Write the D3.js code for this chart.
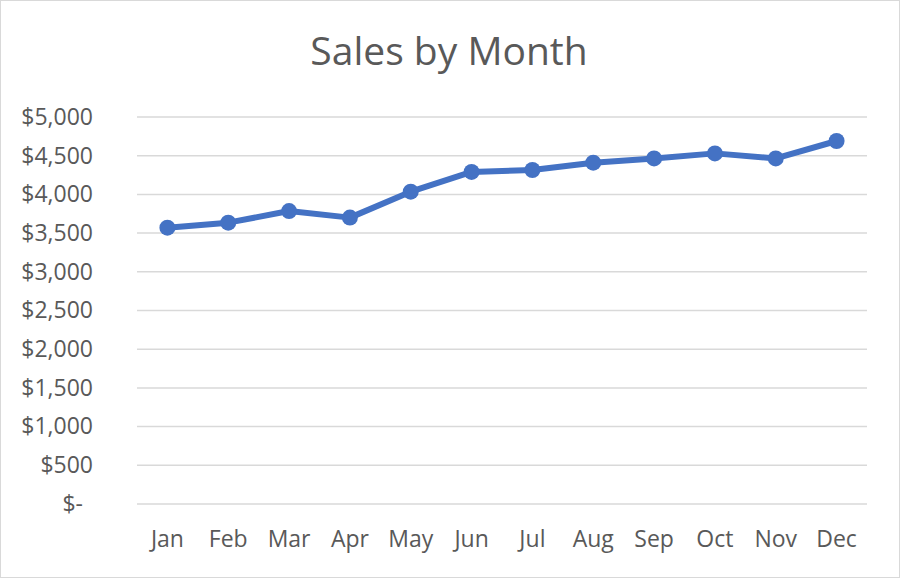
<!DOCTYPE html>
<html>
  <head>
    <meta charset="utf-8">
    <title>Sales by Month</title>
    <script src="https://d3js.org/d3.v7.min.js"></script>
    <style>
      body { margin: 0; background: #fff; }
      svg { display: block; font-family: "Open Sans", sans-serif; }
      .grid line { stroke: #d9d9d9; stroke-width: 1.5; }
      .axis text { fill: #595959; font-size: 23px; font-family: "Open Sans", sans-serif; }
    </style>
  </head>
  <body>
    <svg id="svg" width="900" height="578"></svg>
    <script>
      // data
      var months = ["Jan", "Feb", "Mar", "Apr", "May", "Jun", "Jul", "Aug", "Sep", "Oct", "Nov", "Dec"];
      var sales = [3570, 3635, 3785, 3700, 4035, 4290, 4315, 4410, 4465, 4530, 4465, 4690];
      var yTicks = [0, 500, 1000, 1500, 2000, 2500, 3000, 3500, 4000, 4500, 5000];

      var width = 900, height = 578;
      var margin = {top: 117, right: 33, bottom: 74, left: 137};
      var svg = d3.select("#svg");

      // chart frame
      svg.append("rect")
        .attr("x", 0.5).attr("y", 0.5)
        .attr("width", width - 1).attr("height", height - 1)
        .attr("fill", "none").attr("stroke", "#d9d9d9");

      svg.append("text")
        .attr("x", 449).attr("y", 65)
        .attr("text-anchor", "middle")
        .attr("fill", "#595959")
        .style("font-size", "39px")
        .text("Sales by Month");

      var x = d3.scaleBand()
        .domain(months)
        .range([margin.left, width - margin.right]);
      var y = d3.scaleLinear()
        .domain([0, 5000])
        .range([height - margin.bottom, margin.top]);

      // gridlines
      svg.append("g").attr("class", "grid")
        .selectAll("line")
          .data(yTicks)
        .enter().append("line")
          .attr("x1", margin.left).attr("x2", width - margin.right)
          .attr("y1", function(d) { return y(d); })
          .attr("y2", function(d) { return y(d); });

      // y axis labels
      var fmt = d3.format("$,");
      var yAxis = d3.axisLeft(y)
        .tickValues(yTicks)
        .tickSize(0)
        .tickPadding(44)
        .tickFormat(function(d) { return d === 0 ? "$-" : fmt(d); });
      var yg = svg.append("g").attr("class", "axis")
        .attr("transform", "translate(" + margin.left + ",0)")
        .call(yAxis);
      yg.select(".domain").remove();
      yg.selectAll("text").filter(function(d) { return d === 0; }).attr("dx", "-10");

      // x axis labels
      var xAxis = d3.axisBottom(x).tickSize(0).tickPadding(27);
      var xg = svg.append("g").attr("class", "axis")
        .attr("transform", "translate(0," + (height - margin.bottom) + ")")
        .call(xAxis);
      xg.select(".domain").remove();

      // line and markers
      var line = d3.line()
        .x(function(d, i) { return x(months[i]) + x.bandwidth() / 2; })
        .y(function(d) { return y(d); });
      svg.append("path")
        .datum(sales)
        .attr("d", line)
        .attr("fill", "none")
        .attr("stroke", "#4472c4")
        .attr("stroke-width", 6)
        .attr("stroke-linejoin", "round");
      svg.selectAll(".dot")
          .data(sales)
        .enter().append("circle")
          .attr("class", "dot")
          .attr("cx", function(d, i) { return x(months[i]) + x.bandwidth() / 2; })
          .attr("cy", function(d) { return y(d); })
          .attr("r", 8)
          .attr("fill", "#4472c4");
    </script>
  </body>
</html>
